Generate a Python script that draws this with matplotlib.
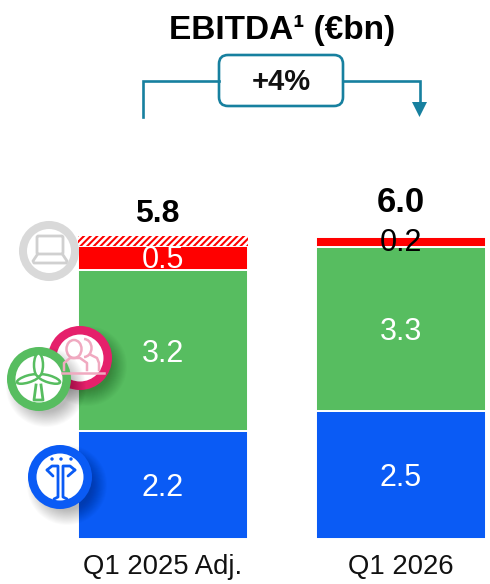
#!/usr/bin/env python3
import matplotlib
matplotlib.use("Agg")
import matplotlib.pyplot as plt
import matplotlib.patches as patches
import numpy as np

plt.rcParams["font.family"] = ["Liberation Sans", "DejaVu Sans"]
plt.rcParams["hatch.linewidth"] = 1.5

# ---------------- Values ----------------
periods = ["Q1 2025 Adj.", "Q1 2026"]
networks = [2.15, 2.54]       # blue
renewables = [3.2, 3.28]      # green
retail = [0.48, 0.2]          # red
hatched = [0.2, 0.0]          # unlabelled top slice on the 2025 bar
networks_txt = ["2.2", "2.5"]
renewables_txt = ["3.2", "3.3"]
retail_txt = ["0.5", "0.2"]
totals_txt = ["5.8", "6.0"]

BLUE = "#0a5bf5"; GREEN = "#57bd60"; RED = "#ff0000"
PINK = "#e5206b"; GREY = "#d9d9d9"; TEAL = "#17809f"

W, H = 490, 584
fig = plt.figure(figsize=(W / 100, H / 100), dpi=100)

# bars: one unit is 50.2 px, zero line sits at y = 539 px
bottom_px = 539
ax = fig.add_axes([0, (H - bottom_px) / H, 1, bottom_px / H])
ax.set_xlim(0, W)
ax.set_ylim(0, bottom_px / 50.2)
ax.axis("off")

x = np.array([163, 401])
bw = 170
edge = dict(edgecolor="white", linewidth=1.4)
b1 = np.array(networks)
b2 = b1 + np.array(renewables)
b3 = b2 + np.array(retail)
ax.bar(x, networks, bw, color=BLUE, **edge)
ax.bar(x, renewables, bw, bottom=b1, color=GREEN, **edge)
ax.bar(x, retail, bw, bottom=b2, color=RED, **edge)

# hatched slice, only where there is one
for xi, h, base in zip(x, hatched, b3):
    if h > 0:
        ax.bar(xi, h, bw, bottom=base, facecolor="white", edgecolor=RED,
               hatch="/////", linewidth=0)

for i in range(2):
    ax.text(x[i], networks[i] / 2 - 0.06, networks_txt[i], ha="center", va="center",
            fontsize=22, color="white")
    ax.text(x[i], b1[i] + renewables[i] / 2 - 0.06, renewables_txt[i], ha="center", va="center",
            fontsize=22, color="white")
ax.text(x[0], b2[0] + retail[0] / 2 - 0.03, retail_txt[0], ha="center", va="center",
        fontsize=22, color="white")
ax.text(x[1], b2[1] + retail[1] / 2 - 0.03, retail_txt[1], ha="center", va="center",
        fontsize=22, color="black")

# ---------------- Overlay in pixel coordinates ----------------
ov = fig.add_axes([0, 0, 1, 1], facecolor="none")
ov.set_xlim(0, W); ov.set_ylim(H, 0); ov.axis("off")

ov.text(157, 214, totals_txt[0], ha="center", va="center", fontsize=23, weight="bold")
ov.text(401, 202, totals_txt[1], ha="center", va="center", fontsize=25, weight="bold")
ov.text(163, 567, periods[0], ha="center", va="center", fontsize=19.8, color="#111111")
ov.text(401, 567, periods[1], ha="center", va="center", fontsize=19.8, color="#111111")

ov.text(282, 30, "EBITDA¹ (€bn)", ha="center", va="center", fontsize=24, weight="bold")

# bracket with the growth box
ov.plot([143, 143, 219], [117, 81, 81], color=TEAL, lw=1.9, solid_joinstyle="miter")
ov.plot([343, 420, 420], [81, 81, 104], color=TEAL, lw=1.9, solid_joinstyle="miter")
ov.add_patch(patches.Polygon([(412, 102), (427, 102), (419.5, 117)], fc=TEAL, ec="none"))
ov.add_patch(patches.FancyBboxPatch((219, 55), 124, 51, boxstyle="round,pad=0,rounding_size=9",
                                    fc="white", ec=TEAL, lw=1.9))
ov.text(281, 82, "+4%", ha="center", va="center", fontsize=21, weight="bold", color="#111111")


def badge(cx, cy, color, r=32, ring=8.5, shadow=True):
    if shadow:
        for k in range(18):
            ov.add_patch(patches.Circle((cx + 7, cy + 8), r + 8 - k * 0.9,
                                        fc="black", ec="none", alpha=0.014))
    ov.add_patch(patches.Circle((cx, cy), r - ring / 2, fc="white", ec=color, lw=ring * 0.72))


# laptop
badge(49, 251, GREY, r=30, ring=8, shadow=False)
lap = "#d0d0d0"
ov.add_patch(patches.FancyBboxPatch((37, 236), 26, 18, boxstyle="round,pad=0,rounding_size=1.5",
                                    fc="none", ec=lap, lw=2))
ov.plot([37, 33, 34, 66, 67, 63], [255, 261, 263, 263, 261, 255], color=lap, lw=2,
        solid_joinstyle="round")

# people
badge(80, 358, PINK)
pale = "#f0a9c0"
ov.add_patch(patches.Ellipse((74, 349), 15, 18, fc="none", ec=pale, lw=1.8))
ov.add_patch(patches.Arc((84, 348), 15, 18, theta1=-90, theta2=90, ec=pale, lw=1.8))
ov.plot([64, 64, 70, 80, 87, 87], [370, 363, 358, 358, 363, 370], color=pale, lw=1.8)
ov.plot([91, 97, 99, 99], [355, 358, 363, 370], color=pale, lw=1.8)
ov.plot([62, 104], [373, 373], color=pale, lw=1.8)

# wind turbine
badge(39, 379, GREEN)
ov.plot([36, 34, 43, 41], [385, 400, 400, 385], color=GREEN, lw=2)
ov.add_patch(patches.Ellipse((28, 379), 23, 7, angle=-17, fc="white", ec=GREEN, lw=1.8))
ov.add_patch(patches.Ellipse((49, 379), 23, 7, angle=17, fc="white", ec=GREEN, lw=1.8))
ov.add_patch(patches.Ellipse((38.5, 365), 9, 23, fc="white", ec=GREEN, lw=1.8))

# pylon
badge(60, 477, BLUE)
for dx in (-9, 0, 10):
    ov.add_patch(patches.Circle((61 + dx, 459), 1.7, fc=BLUE, ec="none"))
ov.plot([47, 52, 58, 58, 54], [470, 466, 466, 497, 499], color=BLUE, lw=2,
        solid_joinstyle="round", solid_capstyle="round")
ov.plot([75, 70, 63, 63, 67], [470, 466, 466, 497, 499], color=BLUE, lw=2,
        solid_joinstyle="round", solid_capstyle="round")
ov.plot([47, 53], [470, 476], color=BLUE, lw=2, solid_capstyle="round")
ov.plot([75, 68], [470, 476], color=BLUE, lw=2, solid_capstyle="round")

plt.savefig("out.png", dpi=100)
